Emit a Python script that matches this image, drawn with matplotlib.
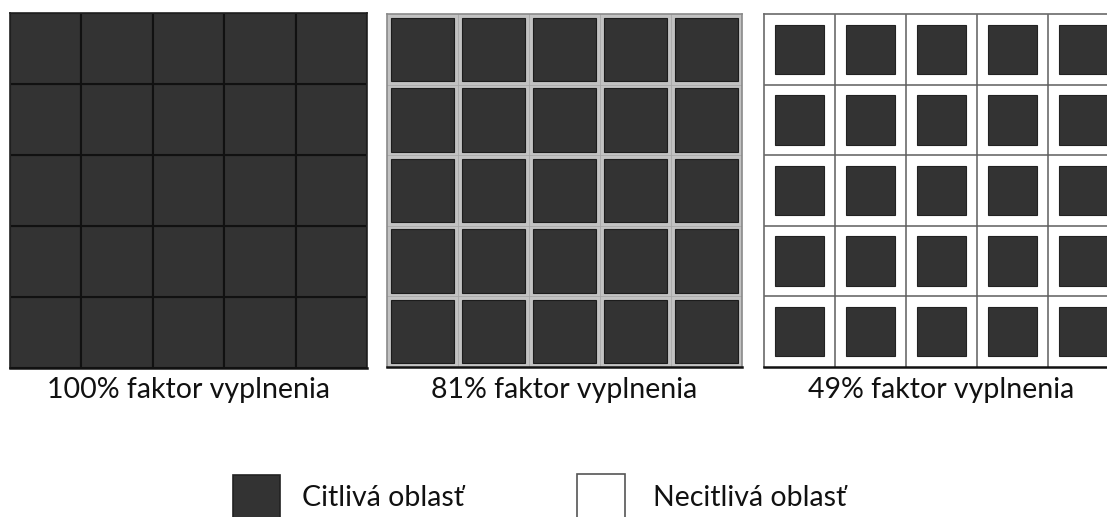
import numpy as np
import matplotlib
matplotlib.use("Agg")
import matplotlib.pyplot as plt
from matplotlib.patches import Rectangle

# ---- data ----
fill_factors = [1.00, 0.81, 0.49]
panel_labels = ["100% faktor vyplnenia", "81% faktor vyplnenia", "49% faktor vyplnenia"]
n_cells = 5
legend_labels = ["Citlivá oblasť", "Necitlivá oblasť"]

# ---- style ----
plt.rcParams['font.family'] = ['Lato', 'DejaVu Sans']
W, H = 1107, 517
DARK = '#333333'
FS = 20.5
fig = plt.figure(figsize=(W / 100, H / 100), dpi=100)
fig.patch.set_facecolor('white')


def px_axes(x0, y0, x1, y1):
    return fig.add_axes([x0 / W, 1 - y1 / H, (x1 - x0) / W, (y1 - y0) / H])


panel_boxes = [(10, 13, 367, 368), (387, 14, 742, 367), (764, 14, 1119, 367)]
gap_colors = ['#111111', '#c2c2c2', 'white']
grid_colors = ['#111111', '#a8a8a8', '#5e5e5e']
square_edges = ['#111111', '#1c1c1c', '#222222']
side_spines = ['#222222', '#8a8a8a', '#6a6a6a']

for k, ff in enumerate(fill_factors):
    ax = px_axes(*panel_boxes[k])
    ax.set_xlim(0, n_cells)
    ax.set_ylim(0, n_cells)
    ax.set_facecolor(gap_colors[k])
    side = np.sqrt(ff)
    m = (1 - side) / 2
    for i in range(n_cells):
        for j in range(n_cells):
            ax.add_patch(Rectangle((i + m, j + m), side, side,
                                   facecolor=DARK, edgecolor=square_edges[k],
                                   lw=1.5 if k == 0 else 0.8, zorder=2))
    if k > 0:
        for g in range(1, n_cells):
            ax.axvline(g, color=grid_colors[k], lw=1.1 if k == 2 else 0.6, zorder=1)
            ax.axhline(g, color=grid_colors[k], lw=1.1 if k == 2 else 0.6, zorder=1)
    ax.set_xticks([])
    ax.set_yticks([])
    for s in ['left', 'top', 'right']:
        ax.spines[s].set_color(side_spines[k])
        ax.spines[s].set_linewidth(1.2)
    ax.spines['bottom'].set_color('#111111')
    ax.spines['bottom'].set_linewidth(1.8)
    cx = (panel_boxes[k][0] + panel_boxes[k][2]) / 2
    fig.text(cx / W, 1 - 398 / H, panel_labels[k], ha='center', va='baseline',
             fontsize=FS, color='#111111')

# ---- legend ----
leg_boxes = [(233, 475, 280, 530), (577, 474, 625, 530)]
leg_faces = [DARK, 'white']
leg_edges = ['#222222', '#555555']
leg_text_x = [302, 653]
for k, lab in enumerate(legend_labels):
    x0, y0, x1, y1 = leg_boxes[k]
    fig.patches.append(Rectangle((x0 / W, 1 - y1 / H), (x1 - x0) / W, (y1 - y0) / H,
                                 transform=fig.transFigure, facecolor=leg_faces[k],
                                 edgecolor=leg_edges[k], lw=1.2))
    fig.text(leg_text_x[k] / W, 1 - 506 / H, lab, ha='left', va='baseline',
             fontsize=FS, color='#111111')

fig.savefig('out.png', dpi=100, facecolor='white')
